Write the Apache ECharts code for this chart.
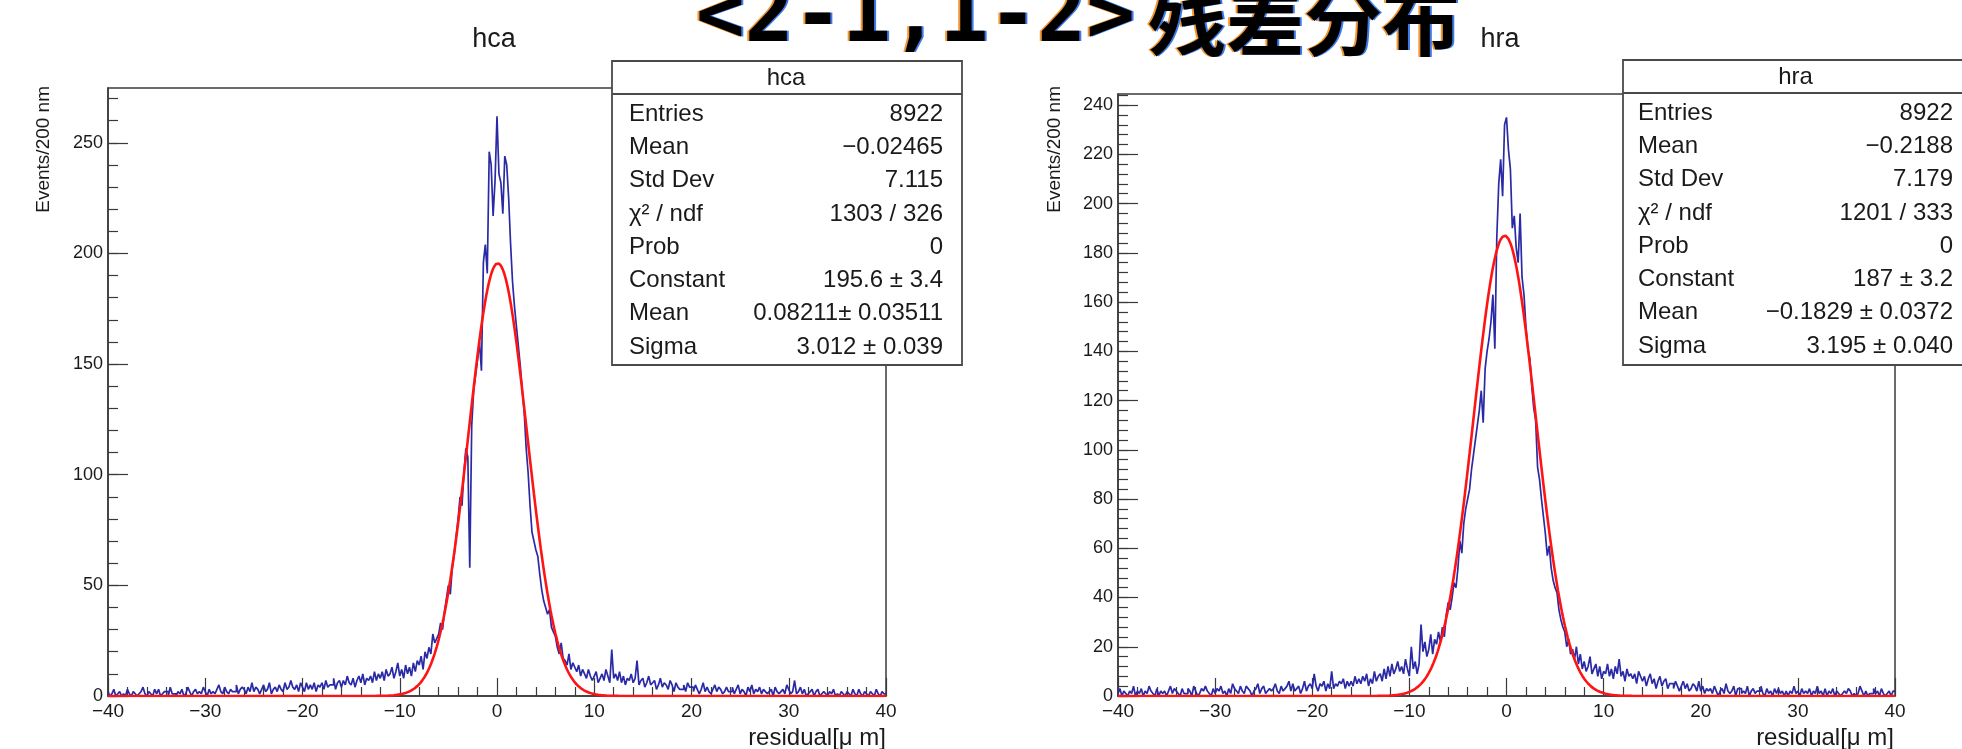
<!DOCTYPE html>
<html>
<head>
<meta charset="utf-8">
<script src="https://cdn.jsdelivr.net/npm/echarts@6/dist/echarts.min.js"></script>
<style>
  html, body { margin: 0; padding: 0; background: #fff; }
  #c { width: 1962px; height: 749px; }
</style>
</head>
<body>
<div id="c"></div>
<script>
// Binning of both residual histograms: 400 bins of 0.2 um from -40 to 40
const binLow = -40;
const binWidth = 0.2;

// hca: counts per bin, listed 5 bins (1 um) per row
const hcaCounts = [
  2,0,1,3,0, 1,2,0,1,0, 3,1,0,2,1, 0,1,2,4,1, 0,2,1,0,3,
  1,3,0,1,2, 2,0,4,1,1, 0,2,1,3,0, 1,4,2,0,2, 3,1,2,1,4,
  2,0,3,1,2, 1,3,5,2,1, 4,2,1,3,2, 2,5,1,3,4, 3,1,4,2,6,
  2,4,3,1,3, 5,2,3,6,1, 3,4,2,5,3, 2,6,3,4,7, 4,3,5,2,6,
  4,2,6,3,5, 3,6,2,5,4, 6,3,7,4,5, 5,8,3,6,7, 4,7,5,9,6,
  5,8,4,7,9, 6,10,5,8,7, 9,6,11,7,10, 8,11,7,12,9, 10,13,8,11,15,
  9,12,8,14,10, 13,9,15,11,16, 14,18,12,20,17, 22,19,28,24,26,
  28,33,30,38,44, 50,46,58,64,72, 80,90,86,101,112, 108,58,122,138,145,
  152,160,147,196,204, 191,246,240,217,233,
  262,236,232,218,244, 240,225,204,187,176,
  167,158,149,138,128, 112,101,86,74,70, 66,63,55,48,43, 40,37,39,31,29,
  27,22,19,24,17, 16,14,19,12,15, 13,11,14,9,12, 10,8,12,9,7,
  9,11,6,8,10, 7,12,9,6,21, 8,10,7,11,6, 9,5,8,7,10, 6,8,16,5,7,
  8,4,6,9,5, 6,7,3,5,8, 4,6,5,3,7, 5,2,6,4,3, 3,5,2,6,4,
  4,2,5,3,1, 3,6,2,4,2, 1,3,5,2,4, 3,1,2,4,2, 2,4,1,3,5,
  1,3,2,0,4, 2,5,1,3,2, 4,1,3,2,1, 2,3,0,4,2, 1,2,3,1,5,
  3,1,2,7,1, 2,4,1,3,0, 1,2,3,0,2, 3,0,1,2,1, 0,2,1,3,0,
  1,0,2,1,0, 2,1,0,3,1, 0,3,1,0,2, 1,0,2,1,0, 3,1,0,2,1
];

// hra: counts per bin, listed 5 bins (1 um) per row
const hraCounts = [
  1,3,0,2,1, 0,2,1,4,0, 2,1,3,0,2, 1,4,2,1,0, 3,0,2,1,2,
  0,2,4,1,3, 2,1,0,3,1, 1,3,2,0,4, 2,0,1,3,2, 4,2,1,0,3,
  1,3,2,4,1, 2,0,3,1,5, 3,2,1,4,2, 1,4,3,2,0, 2,3,5,1,3,
  4,1,2,3,2, 3,5,2,1,4, 2,3,4,6,2, 5,2,3,4,1, 3,6,2,4,5,
  3,9,4,2,5, 4,6,2,5,3, 10,3,5,4,6, 5,7,3,6,4, 6,4,8,5,7,
  5,8,6,9,4, 7,5,10,6,8, 9,6,11,7,12, 8,13,9,11,14, 10,12,9,15,11,
  8,20,11,14,9, 13,29,18,22,16, 19,25,17,23,21, 26,22,28,24,33,
  38,35,40,46,44, 52,63,58,70,76, 80,84,92,98,104, 110,116,124,111,133,
  140,145,152,163,141, 186,208,218,203,232,
  235,222,214,190,195, 182,176,196,170,163,
  150,141,137,126,117, 112,93,88,80,73, 66,57,61,52,47, 44,42,35,31,28,
  26,20,23,17,19, 15,20,13,17,11, 14,10,12,16,9, 11,13,8,12,7,
  10,9,13,8,11, 7,12,9,15,8, 10,6,11,8,9, 7,9,5,10,8, 6,8,4,7,9,
  5,7,3,6,8, 4,6,7,3,5, 5,3,6,4,2, 4,6,3,5,2, 3,5,4,2,6,
  2,4,1,3,2, 3,1,4,2,0, 2,3,1,5,2, 1,2,4,0,3, 3,1,2,1,4,
  0,2,3,1,2, 2,4,1,0,3, 1,2,0,3,1, 3,1,2,0,2, 0,2,1,4,1,
  2,0,3,1,2, 1,3,0,2,1, 4,1,2,0,3, 0,2,1,3,0, 2,1,0,1,2,
  1,3,2,0,1, 0,1,4,2,0, 2,0,1,1,3, 1,2,0,3,1, 0,1,2,0,2
];

// Gaussian fit parameters [Constant, Mean, Sigma]
const hcaFit = [195.6, 0.08211, 3.012];
const hraFit = [187, -0.1829, 3.195];

// Axis ticks
const xTicks = [-40, -30, -20, -10, 0, 10, 20, 30, 40];
const hcaYTicks = [0, 50, 100, 150, 200, 250];
const hraYTicks = [0, 20, 40, 60, 80, 100, 120, 140, 160, 180, 200, 220, 240];
const hcaYMax = 274.8;
const hraYMax = 244.5;
const hcaYMinorStep = 10;
const hraYMinorStep = 4;

// Statistics boxes
const statLabels = ['Entries', 'Mean', 'Std Dev', 'χ² / ndf', 'Prob', 'Constant', 'Mean', 'Sigma'];
const hcaStatValues = ['8922', '\u22120.02465', '7.115', '1303 / 326', '0', '195.6 ± 3.4', '0.08211± 0.03511', '3.012 ± 0.039'];
const hraStatValues = ['8922', '\u22120.2188', '7.179', '1201 / 333', '0', '187 ± 3.2', '\u22120.1829 ± 0.0372', '3.195 ± 0.040'];

const FONT = "'Liberation Sans', Arial, Helvetica, sans-serif";
const AXIS = '#3a3a3a';
const TEXT = '#1a1a1a';

// Histogram outline: one point per bin low edge, plus the closing upper edge
function histSteps(counts) {
  const pts = counts.map((c, i) => [binLow + i * binWidth, c]);
  pts.push([binLow + counts.length * binWidth, counts[counts.length - 1]]);
  return pts;
}

// Fitted Gaussian evaluated over the full axis range
function fitCurve(p) {
  const pts = [];
  for (let k = 0; k <= 800; k++) {
    const x = binLow + k * 0.1;
    const z = (x - p[1]) / p[2];
    pts.push([x, p[0] * Math.exp(-0.5 * z * z)]);
  }
  return pts;
}

function minorValues(max, step) {
  const v = [];
  for (let t = 0; t <= max + 1e-9; t += step) v.push(+t.toFixed(6));
  return v;
}

function xAxisCfg(gi) {
  return {
    type: 'value', gridIndex: gi, position: 'bottom', min: -40, max: 40, interval: 10,
    axisLine: { show: true, onZero: false, lineStyle: { color: AXIS, width: 1.5 } },
    axisTick: { show: true, inside: true, length: 18, lineStyle: { color: AXIS, width: 1.2 } },
    minorTick: { show: true, splitNumber: 5, length: 9, lineStyle: { color: AXIS, width: 1.2 } },
    axisLabel: {
      fontFamily: FONT, fontSize: 19, color: TEXT, margin: 6,
      customValues: xTicks,
      formatter: v => String(v).replace('-', '\u2212')
    },
    splitLine: { show: false }, minorSplitLine: { show: false }
  };
}

function yMajorCfg(gi, max, ticks) {
  return {
    type: 'value', gridIndex: gi, position: 'left', offset: 0, min: 0, max: max,
    axisLine: { show: true, onZero: false, lineStyle: { color: AXIS, width: 1.5 } },
    axisTick: { show: true, inside: true, length: 20, customValues: ticks, lineStyle: { color: AXIS, width: 1.2 } },
    axisLabel: { fontFamily: FONT, fontSize: 18, color: TEXT, margin: 5, customValues: ticks },
    splitLine: { show: false }
  };
}

function yMinorCfg(gi, max, step) {
  return {
    type: 'value', gridIndex: gi, position: 'left', offset: 0, min: 0, max: max,
    axisLine: { show: false, onZero: false },
    axisTick: { show: true, inside: true, length: 10, customValues: minorValues(max, step), lineStyle: { color: AXIS, width: 1.2 } },
    axisLabel: { show: false },
    splitLine: { show: false }
  };
}

function text(x, y, str, size, align, vAlign, extra) {
  return Object.assign({
    type: 'text', x: x, y: y, z: 100,
    style: {
      text: str, fontFamily: FONT, fontSize: size, fill: TEXT,
      align: align, verticalAlign: vAlign
    }
  }, extra || {});
}

function statsBox(left, top, width, height, name, values, labelX, valueX) {
  const els = [
    { type: 'rect', z: 99, shape: { x: left, y: top, width: width, height: height },
      style: { fill: '#fff', stroke: '#4a4a4a', lineWidth: 1.8 } },
    { type: 'line', z: 100, shape: { x1: left, y1: top + 33, x2: left + width, y2: top + 33 },
      style: { stroke: '#4a4a4a', lineWidth: 1.8 } },
    text(labelX + (valueX - labelX) / 2, top + 17, name, 24, 'center', 'middle')
  ];
  statLabels.forEach((lab, i) => {
    const y = top + 53 + i * 33.3;
    els.push(text(labelX, y, lab, 24, 'left', 'middle'));
    els.push(text(valueX, y, values[i], 24, 'right', 'middle'));
  });
  return els;
}

const chart = echarts.init(document.getElementById('c'), null, { renderer: 'canvas' });

// Slide heading, with the colour fringes seen on its glyph edges
const titleCode = '<2-1,1-2>';
const titleWords = '残差分布';
function titlePart(str, x, size, family, color) {
  return {
    type: 'text', x: x, y: 20, z: 101,
    style: { text: str, fontFamily: family, fontSize: size, fontWeight: 'bold',
             fill: color, align: 'left', verticalAlign: 'middle' }
  };
}
function titleLayer(dx, color) {
  return [
    titlePart(titleCode, 696 + dx, 81, "'DejaVu Sans Mono', monospace", color),
    titlePart(titleWords, 1148 + dx, 78, "'Noto Sans CJK SC', sans-serif", color)
  ];
}

const graphics = [].concat(
  titleLayer(-2, 'rgba(240,140,30,0.9)'),
  titleLayer(2, 'rgba(40,110,230,0.9)'),
  titleLayer(0, '#000'),
  [
    text(494, 40, 'hca', 27, 'center', 'middle'),
    text(1500, 40, 'hra', 27, 'center', 'middle'),
    text(44, 86, 'Events/200 nm', 19, 'right', 'middle', { rotation: Math.PI / 2 }),
    text(1055, 86, 'Events/200 nm', 19, 'right', 'middle', { rotation: Math.PI / 2 }),
    text(886, 738, 'residual[μ m]', 24, 'right', 'middle'),
    text(1894, 738, 'residual[μ m]', 24, 'right', 'middle')
  ],
  statsBox(612, 61, 350, 304, 'hca', hcaStatValues, 629, 943),
  statsBox(1623, 60, 360, 305, 'hra', hraStatValues, 1638, 1953)
);

chart.setOption({
  animation: false,
  backgroundColor: '#fff',
  grid: [
    { left: 108, top: 88, width: 778, height: 608, show: true, borderColor: AXIS, borderWidth: 1.5, backgroundColor: 'transparent' },
    { left: 1118, top: 94, width: 777, height: 602, show: true, borderColor: AXIS, borderWidth: 1.5, backgroundColor: 'transparent' }
  ],
  xAxis: [xAxisCfg(0), xAxisCfg(1)],
  yAxis: [
    yMajorCfg(0, hcaYMax, hcaYTicks),
    yMinorCfg(0, hcaYMax, hcaYMinorStep),
    yMajorCfg(1, hraYMax, hraYTicks),
    yMinorCfg(1, hraYMax, hraYMinorStep)
  ],
  series: [
    { type: 'line', name: 'hca', xAxisIndex: 0, yAxisIndex: 0, data: histSteps(hcaCounts), step: 'end',
      symbol: 'none', silent: true, z: 2, lineStyle: { color: '#2a2aa6', width: 1.7 } },
    { type: 'line', name: 'hca fit', xAxisIndex: 0, yAxisIndex: 0, data: fitCurve(hcaFit),
      symbol: 'none', silent: true, z: 3, lineStyle: { color: '#ff1414', width: 2.6 } },
    { type: 'line', name: 'hra', xAxisIndex: 1, yAxisIndex: 2, data: histSteps(hraCounts), step: 'end',
      symbol: 'none', silent: true, z: 2, lineStyle: { color: '#2a2aa6', width: 1.7 } },
    { type: 'line', name: 'hra fit', xAxisIndex: 1, yAxisIndex: 2, data: fitCurve(hraFit),
      symbol: 'none', silent: true, z: 3, lineStyle: { color: '#ff1414', width: 2.6 } }
  ],
  graphic: graphics
});
</script>
</body>
</html>
